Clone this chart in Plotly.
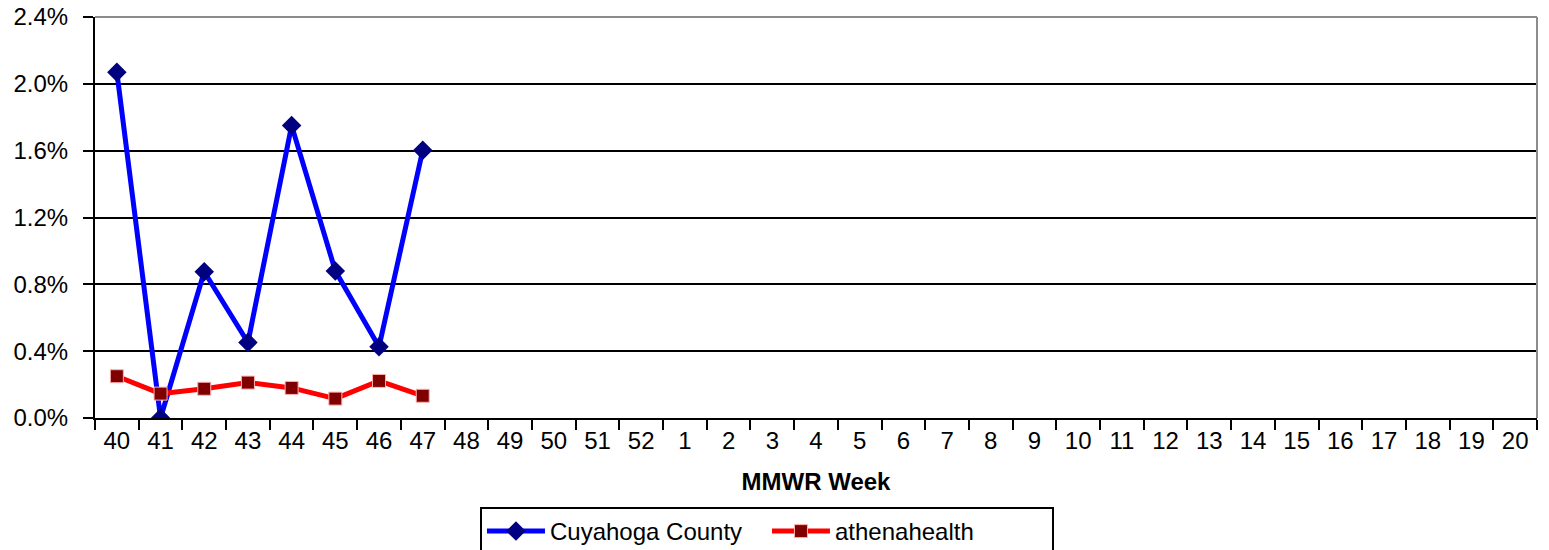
import plotly.graph_objects as go

weeks = ["40", "41", "42", "43", "44", "45", "46", "47", "48", "49", "50", "51", "52",
         "1", "2", "3", "4", "5", "6", "7", "8", "9", "10", "11", "12", "13", "14",
         "15", "16", "17", "18", "19", "20"]
cuyahoga_weeks = ["40", "41", "42", "43", "44", "45", "46", "47"]
cuyahoga = [2.07, 0.0, 0.875, 0.452, 1.75, 0.88, 0.426, 1.603]
athena = [0.250, 0.146, 0.175, 0.212, 0.180, 0.116, 0.222, 0.133]
y_ticks = [0.0, 0.4, 0.8, 1.2, 1.6, 2.0, 2.4]

FONT = "Liberation Sans, Arial, sans-serif"
FS = 24

fig = go.Figure()
fig.add_trace(go.Scatter(
    x=cuyahoga_weeks, y=cuyahoga, name="Cuyahoga County", mode="lines+markers",
    line=dict(color="#0000FF", width=5),
    marker=dict(symbol="diamond", color="#000080", size=15),
))
fig.add_trace(go.Scatter(
    x=cuyahoga_weeks, y=athena, name="athenahealth", mode="lines+markers",
    line=dict(color="#FF0000", width=5),
    marker=dict(symbol="square", color="#800000", size=13,
                line=dict(color="#FFB0B0", width=1)),
))

fig.update_layout(
    width=1549, height=550,
    margin=dict(l=95, r=12, t=17, b=132, autoexpand=False),
    paper_bgcolor="white", plot_bgcolor="white",
    font=dict(family=FONT, color="black", size=FS),
    showlegend=True,
    legend=dict(
        orientation="h", x=0.466, xanchor="center", y=-0.222, yanchor="top",
        bordercolor="black", borderwidth=2, bgcolor="white",
        font=dict(family=FONT, size=FS, color="black"),
        itemwidth=58, entrywidth=212, entrywidthmode="pixels", tracegroupgap=0,
    ),
    xaxis=dict(
        type="category", categoryorder="array", categoryarray=weeks,
        range=[-0.5, len(weeks) - 0.5],
        tickmode="array", tickvals=weeks, ticktext=weeks,
        tickson="boundaries", ticks="outside", ticklen=10, tickwidth=2, tickcolor="black",
        showline=True, linecolor="black", linewidth=2,
        showgrid=False, zeroline=False, automargin=False,
        tickfont=dict(size=FS),
        title=dict(text="<b>MMWR Week</b>", font=dict(size=FS), standoff=20),
    ),
    yaxis=dict(
        range=[0, 2.4], tickvals=y_ticks, ticktext=[f"{v:.1f}%" for v in y_ticks],
        ticks="outside", ticklen=10, tickwidth=2, tickcolor="black",
        showline=True, linecolor="black", linewidth=2,
        showgrid=True, gridcolor="black", gridwidth=2,
        zeroline=False, automargin=False, tickfont=dict(size=FS),
        ticklabelstandoff=10,
    ),
    shapes=[
        dict(type="line", xref="paper", yref="paper", x0=0, x1=1, y0=1, y1=1,
             line=dict(color="#8C8C8C", width=2), layer="above"),
        dict(type="line", xref="paper", yref="paper", x0=1, x1=1, y0=0, y1=1,
             line=dict(color="#8C8C8C", width=2), layer="above"),
    ],
)

fig.write_html(
    "out.html",
    config={"displayModeBar": False},
    post_script="document.body.style.margin='0';document.body.style.overflow='hidden';",
)
